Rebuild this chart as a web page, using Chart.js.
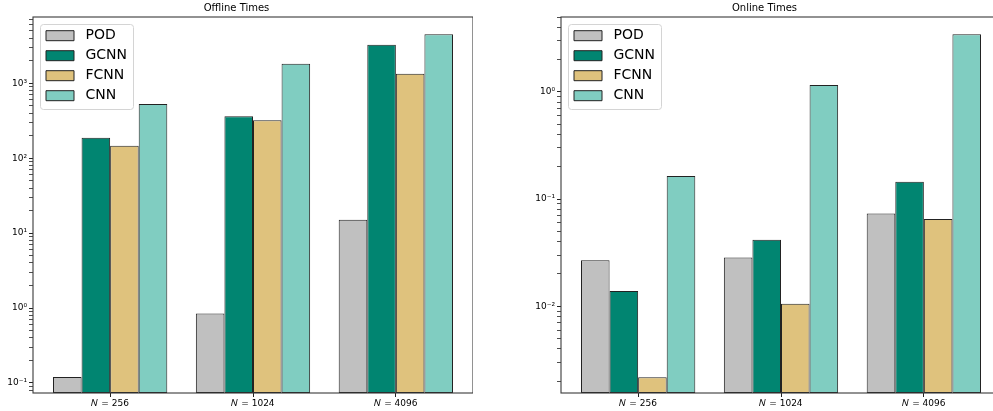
<!DOCTYPE html>
<html>
<head>
<meta charset="utf-8">
<script src="https://cdn.jsdelivr.net/npm/chart.js@4/dist/chart.umd.min.js"></script>
<style>
    html, body { margin: 0; padding: 0; background: #fff; overflow: hidden; width: 993px; height: 411px; }
    canvas { position: absolute; top: 0; }
    #offline-chart { left: 0; }
    #online-chart { left: 528px; }
</style>
</head>
<body>
<canvas id="offline-chart" width="473" height="411"></canvas>
<canvas id="online-chart" width="473" height="411"></canvas>
<script>
const categories = ['𝑁 = 256', '𝑁 = 1024', '𝑁 = 4096'];
const methods = ['POD', 'GCNN', 'FCNN', 'CNN'];
const colors = ['#c0c0c0', '#018571', '#dfc27d', '#80cdc1'];

// offline times per method, N = 256, 1024, 4096
const offlinePOD = [0.120, 0.849, 15.1];
const offlineGCNN = [188, 362, 3273];
const offlineFCNN = [147, 321, 1343];
const offlineCNN = [529, 1827, 4508];

// online times per method
const onlinePOD = [0.0269, 0.0285, 0.0733];
const onlineGCNN = [0.0139, 0.0417, 0.145];
const onlineFCNN = [0.00218, 0.01057, 0.065];
const onlineCNN = [0.164, 1.16, 3.46];

const offlineTickValues = [0.1, 1, 10, 100, 1000];
const offlineTickLabels = ['10⁻¹', '10⁰', '10¹', '10²', '10³'];
const onlineTickValues = [0.01, 0.1, 1];
const onlineTickLabels = ['10⁻²', '10⁻¹', '10⁰'];

const offlineRange = [0.0735, 7670];
const onlineRange = [0.00155, 5.0];

const FONT = 'DejaVu Sans';

function logTicks(majors, labels, range) {
    const ticks = [];
    const lo = Math.floor(Math.log10(range[0]));
    const hi = Math.floor(Math.log10(range[1]));
    for (let k = lo; k <= hi; k++) {
        for (let m = 1; m <= 9; m++) {
            const v = m * Math.pow(10, k);
            if (v < range[0] || v > range[1]) continue;
            const idx = majors.findIndex(t => Math.abs(t - v) < v * 1e-9);
            ticks.push({value: v, major: idx >= 0, text: idx >= 0 ? labels[idx] : ''});
        }
    }
    return ticks;
}

const frameAndLegend = {
    id: 'frameAndLegend',
    afterLayout(chart) {
        // put the legend box inside the axes, upper left
        const lg = chart.legend;
        const a = chart.chartArea;
        const w = lg.right - lg.left, h = lg.bottom - lg.top;
        lg.left = a.left + 7;
        lg.top = a.top + 5.7;
        lg.right = lg.left + w;
        lg.bottom = lg.top + h;
    },
    beforeDraw(chart) {
        const lg = chart.legend;
        const ctx = chart.ctx;
        const maxW = Math.max(...lg.legendHitBoxes.map(b => b.width));
        ctx.save();
        ctx.strokeStyle = '#d4d4d4';
        ctx.lineWidth = 1;
        ctx.beginPath();
        ctx.roundRect(Math.round(lg.left) + 0.5, Math.round(lg.top) + 1.5, maxW + 12, 85, 3);
        ctx.stroke();
        ctx.restore();
    },
    afterDatasetsDraw(chart) {
        const a = chart.chartArea;
        const ctx = chart.ctx;
        ctx.save();
        ctx.strokeStyle = '#3a3a3a';
        ctx.lineWidth = 1.1;
        ctx.strokeRect(a.left, a.top, a.right - a.left, a.bottom - a.top);
        ctx.restore();
    }
};

function makeChart(id, title, series, tickValues, tickLabels, range) {
    const yTicks = logTicks(tickValues, tickLabels, range);
    const datasets = series.map((values, i) => ({
        label: methods[i],
        data: values.map((v, j) => ({x: j, y: v})),
        backgroundColor: colors[i],
        borderColor: '#222',
        borderWidth: 1,
        borderSkipped: false,
        categoryPercentage: 0.8,
        barPercentage: 1.0
    }));

    return new Chart(document.getElementById(id), {
        type: 'bar',
        data: {datasets: datasets},
        options: {
            responsive: false,
            animation: false,
            devicePixelRatio: 1,
            layout: {padding: 0},
            scales: {
                x: {
                    type: 'linear',
                    min: -0.54,
                    max: 2.54,
                    offset: false,
                    afterBuildTicks: (scale) => {
                        scale.ticks = categories.map((c, i) => ({value: i}));
                    },
                    afterFit: (scale) => { scale.height = 18; },
                    ticks: {
                        autoSkip: false,
                        maxRotation: 0,
                        padding: 1,
                        color: '#000',
                        font: {family: FONT, size: 9},
                        callback: (v) => categories[v]
                    },
                    grid: {drawOnChartArea: false, offset: false, tickLength: 4, tickColor: '#222'},
                    border: {display: false}
                },
                y: {
                    type: 'logarithmic',
                    min: range[0],
                    max: range[1],
                    afterBuildTicks: (scale) => {
                        scale.ticks = yTicks.map(t => ({value: t.value, major: t.major}));
                    },
                    afterFit: (scale) => { scale.width = 33; },
                    ticks: {
                        autoSkip: false,
                        padding: 2,
                        color: '#000',
                        font: {family: FONT, size: 9},
                        callback: (v, i) => yTicks[i].text
                    },
                    grid: {
                        drawOnChartArea: false,
                        tickLength: 4,
                        tickColor: '#222',
                        tickWidth: (ctx) => (ctx.tick && ctx.tick.major ? 1 : 0.8)
                    },
                    border: {display: false}
                }
            },
            plugins: {
                title: {
                    display: true,
                    text: title,
                    color: '#000',
                    font: {family: FONT, size: 10, weight: 'normal'},
                    padding: {top: 2, bottom: 3}
                },
                legend: {
                    position: 'chartArea',
                    align: 'start',
                    labels: {
                        color: '#000',
                        font: {family: FONT, size: 14},
                        boxWidth: 28,
                        boxHeight: 10,
                        padding: 6,
                        generateLabels: (chart) => {
                            const items = Chart.defaults.plugins.legend.labels.generateLabels(chart);
                            items.forEach(it => { it.text = ' ' + it.text; });
                            return items;
                        }
                    }
                },
                tooltip: {enabled: false}
            }
        },
        plugins: [frameAndLegend]
    });
}

makeChart('offline-chart', 'Offline Times',
    [offlinePOD, offlineGCNN, offlineFCNN, offlineCNN],
    offlineTickValues, offlineTickLabels, offlineRange);
makeChart('online-chart', 'Online Times',
    [onlinePOD, onlineGCNN, onlineFCNN, onlineCNN],
    onlineTickValues, onlineTickLabels, onlineRange);
</script>
</body>
</html>
